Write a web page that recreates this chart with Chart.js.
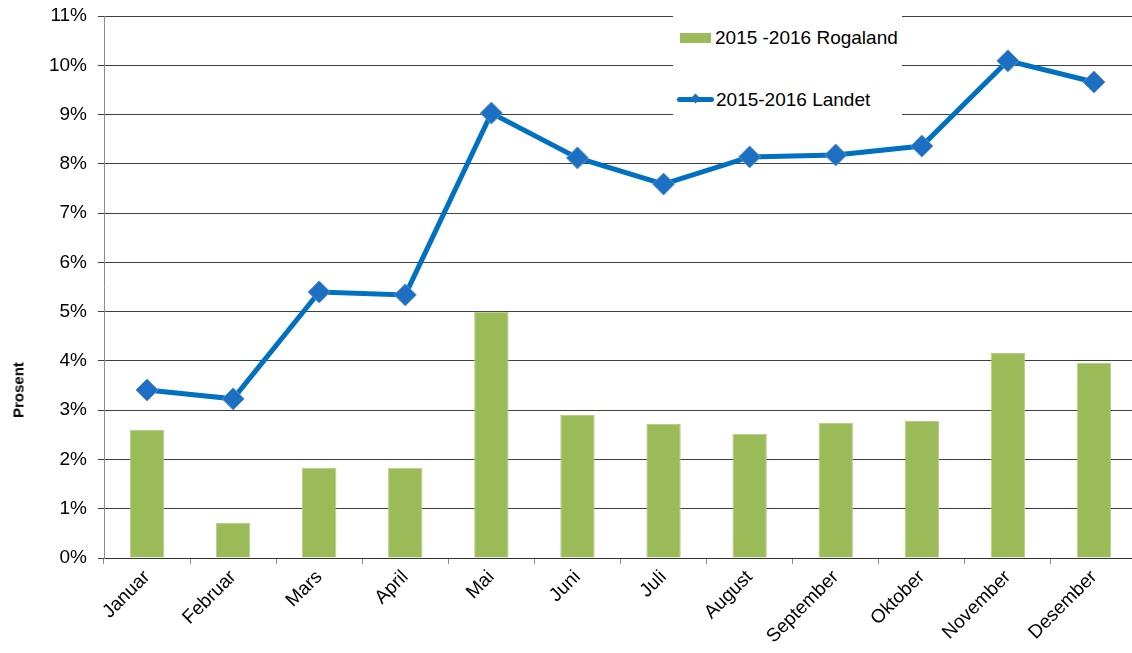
<!DOCTYPE html>
<html>
<head>
<meta charset="utf-8">
<script src="https://cdn.jsdelivr.net/npm/chart.js@4.4.1/dist/chart.umd.min.js"></script>
<style>
  html, body { margin: 0; padding: 0; background: #fff; overflow: hidden; }
  #wrap { position: relative; width: 1132px; height: 653px; overflow: hidden; }
  #chart { position: absolute; left: 0; top: 0; }
  #ytitle {
    position: absolute; left: 18px; top: 390px;
    transform: translate(-50%, -50%) rotate(-90deg);
    font: bold 15px "Liberation Sans", Arial, sans-serif; color: #000;
    white-space: nowrap;
  }
  #legend {
    position: absolute; left: 673px; top: 8px; width: 229px; height: 109px;
    background: #fff;
    font: 19px "Liberation Sans", Arial, sans-serif; color: #000;
  }
  .item { position: absolute; left: 4px; height: 24px; line-height: 24px; white-space: nowrap; }
  .item span { display: inline-block; vertical-align: middle; }
  .swatch { width: 31px; height: 10px; background: #9bbb59; margin-left: 3px; margin-right: 4px; }
  .lineSym { position: relative; width: 37px; height: 5px; background: #0070c0; border-radius: 3px; margin-right: 2px; }
  .lineSym::after {
    content: ""; position: absolute; left: 15px; top: -2px; width: 7px; height: 7px;
    background: #1d6fc2; transform: rotate(45deg);
  }
</style>
</head>
<body>
<div id="wrap">
  <canvas id="chart" width="1149" height="653"></canvas>
  <div id="ytitle">Prosent</div>
  <div id="legend">
    <div class="item" style="top:17px"><span class="swatch"></span><span>2015 -2016 Rogaland</span></div>
    <div class="item" style="top:79px"><span class="lineSym"></span><span>2015-2016 Landet</span></div>
  </div>
</div>
<script>
  const months = ["Januar", "Februar", "Mars", "April", "Mai", "Juni", "Juli", "August", "September", "Oktober", "November", "Desember"];
  const rogaland = [2.60, 0.71, 1.83, 1.83, 5.0, 2.90, 2.72, 2.52, 2.74, 2.78, 4.16, 3.96];
  const landet = [3.41, 3.23, 5.40, 5.34, 9.03, 8.12, 7.59, 8.14, 8.18, 8.36, 10.09, 9.66];
  const yTicks = [0, 1, 2, 3, 4, 5, 6, 7, 8, 9, 10, 11];

  const font = { family: "'Liberation Sans', Arial, sans-serif", size: 19 };

  new Chart(document.getElementById("chart"), {
    type: "bar",
    data: {
      labels: months,
      datasets: [
        {
          type: "line",
          label: "2015-2016 Landet",
          data: landet,
          borderColor: "#0070c0",
          borderWidth: 5,
          pointStyle: "rectRot",
          pointRadius: 11,
          pointBackgroundColor: "#1d6fc2",
          pointBorderColor: "#5a8fd2",
          pointBorderWidth: 1,
          tension: 0,
          order: 0
        },
        {
          label: "2015 -2016 Rogaland",
          data: rogaland,
          backgroundColor: "#9bbb59",
          borderColor: "#b5cf85",
          borderWidth: 1,
          barPercentage: 0.4,
          categoryPercentage: 1,
          order: 1
        }
      ]
    },
    options: {
      responsive: false,
      animation: false,
      layout: { padding: { top: 16, left: 0, right: 2, bottom: 0 } },
      plugins: {
        legend: { display: false },
        tooltip: { enabled: false }
      },
      scales: {
        x: {
          grid: {
            drawOnChartArea: false,
            drawTicks: true,
            tickLength: 6,
            color: "#8a8a8a",
            offset: true
          },
          border: { color: "#333", width: 1 },
          ticks: {
            color: "#000",
            font: font,
            minRotation: 45,
            maxRotation: 45,
            padding: 2
          },
          afterFit: scale => {
            scale.height = 95;
            scale.paddingLeft = 0;
            scale.paddingRight = 0;
          }
        },
        y: {
          min: 0,
          max: 11,
          afterBuildTicks: scale => {
            scale.ticks = yTicks.map(v => ({ value: v }));
          },
          grid: {
            color: "#404040",
            lineWidth: 1,
            tickLength: 6
          },
          border: { color: "#8c8c8c", width: 1 },
          ticks: {
            color: "#000",
            font: font,
            padding: 11,
            callback: value => value + "%"
          },
          afterFit: scale => {
            scale.width = 104;
            scale.paddingTop = 0;
            scale.paddingBottom = 0;
          }
        }
      }
    }
  });
</script>
</body>
</html>
